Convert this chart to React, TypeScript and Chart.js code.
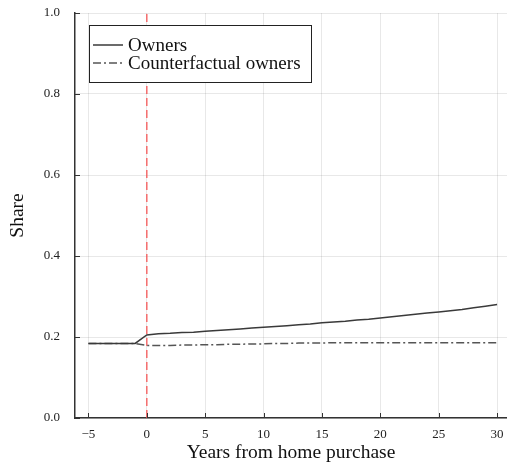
import React, { useEffect, useRef } from "react";
import { Chart, registerables } from "chart.js";

Chart.register(...registerables);

const years = [-5,-4,-3,-2,-1,0,1,2,3,4,5,6,7,8,9,10,11,12,13,14,15,16,17,18,19,20,21,22,23,24,25,26,27,28,29,30];
const owners = [0.184,0.184,0.184,0.184,0.184,0.205,0.208,0.209,0.211,0.212,0.214,0.216,0.218,0.220,0.222,0.224,0.226,0.228,0.230,0.232,0.235,0.237,0.239,0.242,0.244,0.247,0.250,0.253,0.256,0.259,0.262,0.265,0.268,0.272,0.276,0.280];
const counterfactual = [0.184,0.184,0.184,0.184,0.184,0.179,0.179,0.179,0.180,0.180,0.181,0.181,0.182,0.182,0.183,0.183,0.184,0.184,0.185,0.185,0.185,0.186,0.186,0.186,0.186,0.186,0.186,0.186,0.186,0.186,0.186,0.186,0.186,0.186,0.186,0.186];
const eventLineX = [0, 0];
const eventLineY = [0, 1];
const xTicks = [-5, 0, 5, 10, 15, 20, 25, 30];
const xTickLabels = ["\u22125", "0", "5", "10", "15", "20", "25", "30"];
const yTicks = [0, 0.2, 0.4, 0.6, 0.8, 1.0];
const yTickLabels = ["0.0", "0.2", "0.4", "0.6", "0.8", "1.0"];
const seriesNames = ["Owners", "Counterfactual owners"];

const FONT = "'Liberation Serif', 'Times New Roman', serif";

const insideTicks = {
  id: "insideTicks",
  afterDraw(chart: any) {
    const { ctx, chartArea } = chart;
    const xs = chart.scales.x;
    const ys = chart.scales.y;
    ctx.save();
    ctx.strokeStyle = "#333";
    ctx.lineWidth = 1;
    xTicks.forEach((v) => {
      const px = Math.round(xs.getPixelForValue(v)) + 0.5;
      ctx.beginPath();
      ctx.moveTo(px, chartArea.bottom);
      ctx.lineTo(px, chartArea.bottom - 5);
      ctx.stroke();
    });
    yTicks.forEach((v) => {
      const py = Math.round(ys.getPixelForValue(v)) + 0.5;
      ctx.beginPath();
      ctx.moveTo(chartArea.left, py);
      ctx.lineTo(chartArea.left + 5, py);
      ctx.stroke();
    });
    ctx.restore();
  },
};

const boxLegend = {
  id: "boxLegend",
  afterDraw(chart: any) {
    const { ctx, chartArea } = chart;
    const x0 = chartArea.left + 14;
    const y0 = chartArea.top + 12;
    const w = 222;
    const h = 57;
    ctx.save();
    ctx.fillStyle = "#fff";
    ctx.fillRect(x0, y0, w, h);
    ctx.strokeStyle = "#222";
    ctx.lineWidth = 1;
    ctx.setLineDash([]);
    ctx.strokeRect(x0 + 0.5, y0 + 0.5, w, h);
    ctx.font = `19px ${FONT}`;
    ctx.textBaseline = "middle";
    ctx.fillStyle = "#111";
    seriesNames.forEach((name, i) => {
      const ds = chart.data.datasets[i];
      const cy = y0 + 20 + i * 18;
      ctx.strokeStyle = ds.borderColor;
      ctx.lineWidth = ds.borderWidth;
      ctx.setLineDash(ds.borderDash || []);
      ctx.beginPath();
      ctx.moveTo(x0 + 4, cy);
      ctx.lineTo(x0 + 34, cy);
      ctx.stroke();
      ctx.setLineDash([]);
      ctx.fillText(name, x0 + 39, cy + 1);
    });
    ctx.restore();
  },
};

export default function App() {
  const ref = useRef<HTMLCanvasElement | null>(null);
  useEffect(() => {
    document.body.style.margin = "0";
    const canvas = ref.current!;
    const chart = new Chart(canvas, {
      type: "line",
      data: {
        datasets: [
          {
            label: seriesNames[0],
            data: years.map((x, i) => ({ x, y: owners[i] })),
            borderColor: "#3a3a3a",
            borderWidth: 1.5,
            pointRadius: 0,
            tension: 0,
          },
          {
            label: seriesNames[1],
            data: years.map((x, i) => ({ x, y: counterfactual[i] })),
            borderColor: "#555",
            borderWidth: 1.5,
            borderDash: [8, 3, 2, 3],
            pointRadius: 0,
            tension: 0,
          },
          {
            label: "event",
            data: eventLineX.map((x, i) => ({ x, y: eventLineY[i] })),
            borderColor: "rgba(245,75,75,0.8)",
            borderWidth: 1.5,
            borderDash: [8, 4],
            pointRadius: 0,
          },
        ],
      },
      options: {
        animation: false,
        responsive: false,
        maintainAspectRatio: false,
        layout: { padding: { top: 13, right: 0, left: 0, bottom: 0 } },
        plugins: { legend: { display: false }, tooltip: { enabled: false } },
        scales: {
          x: {
            type: "linear",
            min: -6.15,
            max: 30.85,
            afterBuildTicks: (s: any) => {
              s.ticks = xTicks.map((v) => ({ value: v }));
            },
            afterFit: (s: any) => {
              s.height = 47;
              s.paddingLeft = 0;
              s.paddingRight = 0;
            },
            ticks: {
              callback: (v: any) => xTickLabels[xTicks.indexOf(Number(v))] ?? "",
              font: { family: FONT, size: 13 },
              color: "#222",
              padding: 9,
              maxRotation: 0,
            },
            grid: { color: "rgba(0,0,0,0.09)", lineWidth: 1, drawTicks: false },
            border: { color: "#333", width: 1.5 },
            title: {
              display: true,
              text: "Years from home purchase",
              font: { family: FONT, size: 19.5 },
              color: "#111",
              padding: { top: 0, bottom: 0 },
            },
          },
          y: {
            type: "linear",
            min: 0,
            max: 1,
            afterBuildTicks: (s: any) => {
              s.ticks = yTicks.map((v) => ({ value: v }));
            },
            afterFit: (s: any) => {
              s.width = 75;
              s.paddingTop = 0;
              s.paddingBottom = 0;
            },
            ticks: {
              callback: (v: any) => yTickLabels[yTicks.findIndex((t) => Math.abs(t - Number(v)) < 1e-9)] ?? "",
              font: { family: FONT, size: 13 },
              color: "#222",
              padding: 15,
            },
            grid: { color: "rgba(0,0,0,0.09)", lineWidth: 1, drawTicks: false },
            border: { color: "#333", width: 1.5 },
            title: {
              display: true,
              text: "Share",
              font: { family: FONT, size: 19.5 },
              color: "#111",
              padding: { top: 6, bottom: 0 },
            },
          },
        },
      },
      plugins: [insideTicks, boxLegend],
    });
    return () => chart.destroy();
  }, []);
  return (
    <div style={{ width: 507, height: 465 }}>
      <canvas ref={ref} width={507} height={465} style={{ display: "block" }} />
    </div>
  );
}
